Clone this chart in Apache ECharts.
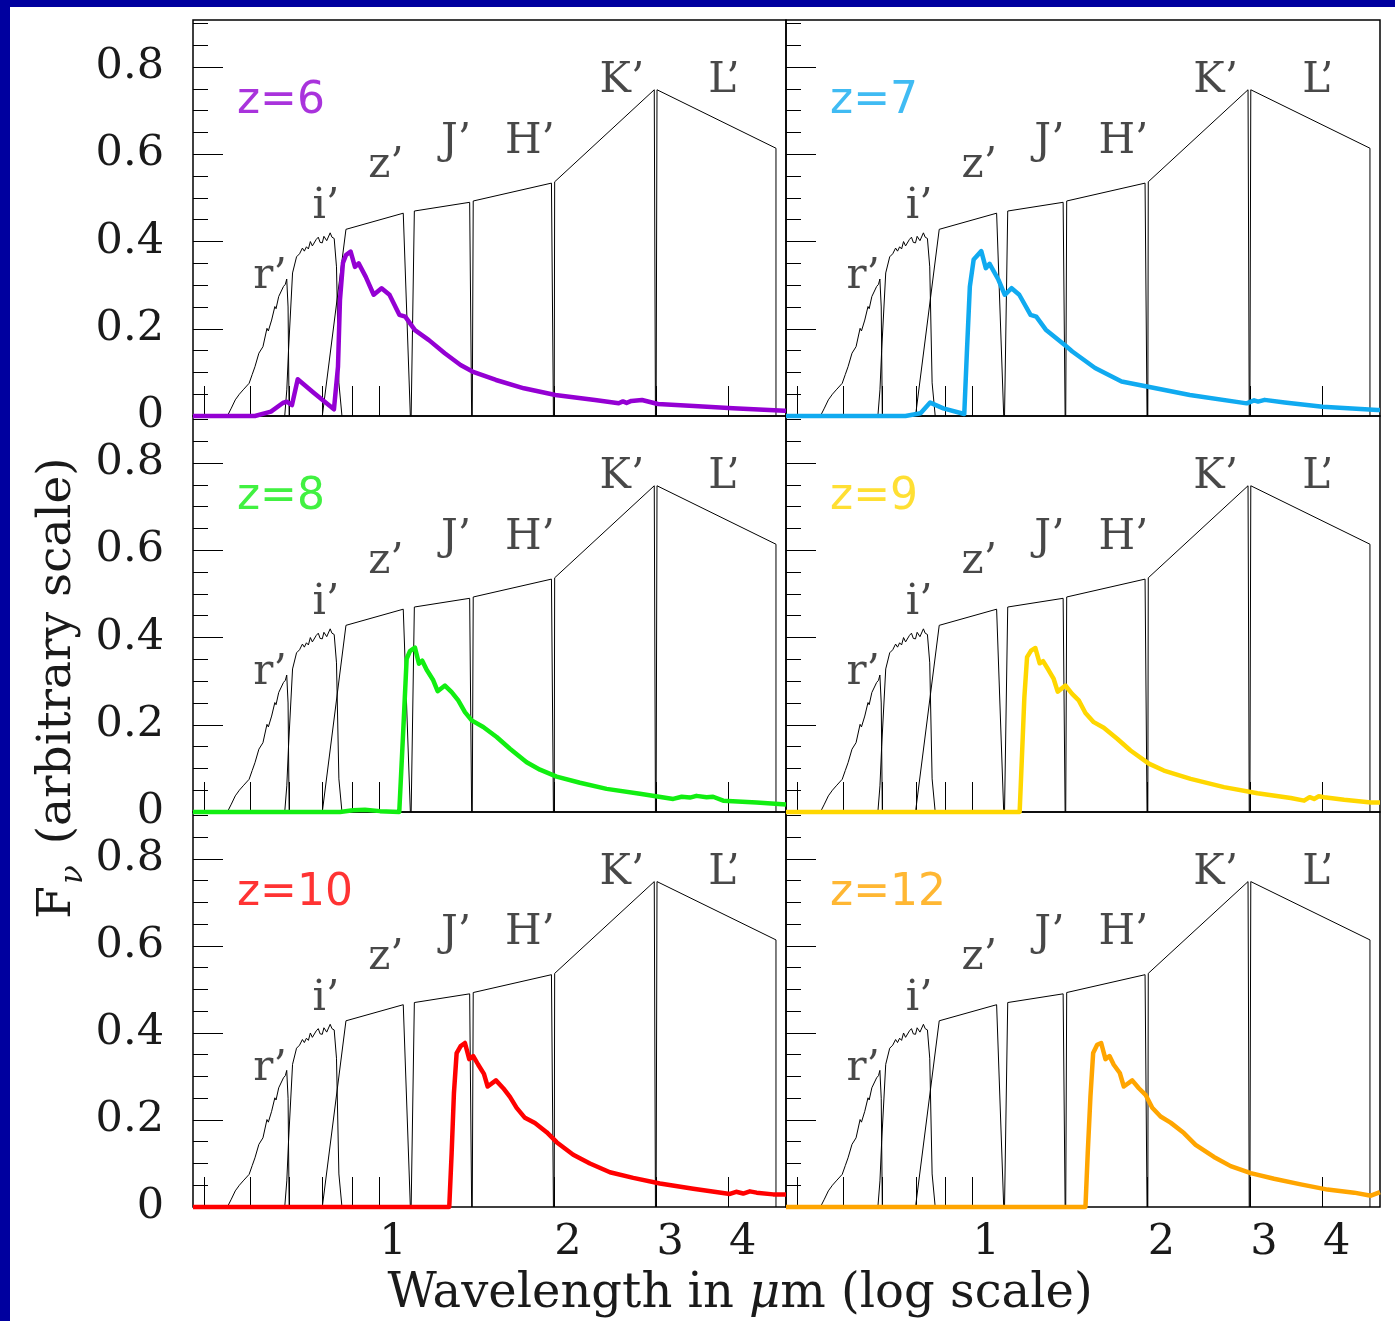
<!DOCTYPE html>
<html><head><meta charset="utf-8">
<script src="https://cdn.jsdelivr.net/npm/echarts@6/dist/echarts.min.js"></script>
<style>html,body{margin:0;padding:0;background:#fff}#c{width:1395px;height:1321px}</style>
</head><body><div id="c"></div>
<script>
// ---------- data (wavelength in micron, flux F_nu arbitrary) ----------
const filterR = [[0.5483,0],[0.5570,0.018],[0.5658,0.037],[0.5750,0.050],[0.5838,0.060],[0.5977,0.075],[0.6050,0.095],[0.6117,0.113],[0.6213,0.144],[0.6260,0.142],[0.6314,0.159],[0.6415,0.201],[0.6450,0.195],[0.6535,0.220],[0.6619,0.251],[0.6650,0.246],[0.6721,0.274],[0.6849,0.297],[0.6900,0.302],[0.6938,0.314],[0.6975,0.250],[0.7005,0]];
const filterI = [[0.6883,0],[0.6940,0.06],[0.6987,0.15],[0.7100,0.328],[0.7213,0.365],[0.7300,0.372],[0.7383,0.385],[0.7440,0.378],[0.7502,0.388],[0.7560,0.383],[0.7619,0.400],[0.7680,0.390],[0.7741,0.392],[0.7800,0.405],[0.7862,0.410],[0.7920,0.398],[0.7988,0.397],[0.8040,0.412],[0.8091,0.415],[0.8130,0.402],[0.8177,0.404],[0.8242,0.420],[0.8300,0.410],[0.8374,0.407],[0.8451,0.342],[0.8531,0.076],[0.8636,0]];
const filterZ = [[0.7988,0],[0.8774,0.428],[1.1011,0.465],[1.1325,0]];
const filterJ = [[1.1361,0],[1.1506,0.470],[1.4327,0.490],[1.4440,0]];
const filterH = [[1.4475,0],[1.4530,0.493],[1.9812,0.534],[1.9969,0]];
const filterK = [[2.0030,0],[2.0066,0.537],[2.9780,0.748],[2.9920,0]];
const filterL = [[3.0000,0],[3.0106,0.748],[4.8245,0.614],[4.8245,0]];
const filterNames = ['r’','i’','z’','J’','H’','K’','L’'];
const filterNameAt = [[0.6494,0.318],[0.8105,0.478],[1.028,0.572],[1.357,0.627],[1.819,0.629],[2.620,0.767],[3.925,0.767]];

const specZ6 = [[0.4785,0],[0.6116,0],[0.6517,0.0099],[0.6831,0.0298],[0.6938,0.0328],[0.7084,0.0252],[0.7247,0.0842],[0.7729,0.0528],[0.8366,0.0154],[0.8501,0.113],[0.8568,0.266],[0.8670,0.351],[0.8774,0.369],[0.8938,0.377],[0.9093,0.342],[0.9227,0.350],[0.9491,0.319],[0.9793,0.278],[1.0104,0.293],[1.0425,0.278],[1.0842,0.232],[1.1097,0.228],[1.1533,0.197],[1.2191,0.174],[1.2981,0.144],[1.3818,0.117],[1.4485,0.102],[1.5901,0.0826],[1.7763,0.0635],[2.0124,0.0482],[2.3541,0.0367],[2.5862,0.0291],[2.6300,0.0335],[2.6685,0.0300],[2.7200,0.0345],[2.8366,0.0367],[3.0215,0.0275],[3.4847,0.0229],[4.0676,0.0177],[4.9920,0.0122],[5.02,0.012]];
const specZ7 = [[0.4785,0],[0.7675,0],[0.8150,0.0061],[0.8464,0.0307],[0.8918,0.0176],[0.9688,0.0046],[0.9788,0.144],[0.9905,0.297],[1.0056,0.359],[1.0363,0.378],[1.0550,0.339],[1.0710,0.349],[1.1085,0.313],[1.1374,0.278],[1.1685,0.293],[1.2043,0.278],[1.2594,0.232],[1.2882,0.228],[1.3376,0.198],[1.4416,0.163],[1.4857,0.148],[1.6256,0.110],[1.8055,0.079],[2.0058,0.067],[2.3651,0.048],[2.9622,0.029],[3.0500,0.036],[3.0992,0.033],[3.1800,0.037],[3.4422,0.031],[3.9985,0.021],[4.9716,0.014],[5.02,0.014]];
const specZ8 = [[0.4785,0],[0.8568,0],[0.9021,0.004],[0.9460,0.005],[1.0040,0.002],[1.0838,0],[1.1011,0.187],[1.1160,0.351],[1.1307,0.369],[1.1533,0.377],[1.1718,0.340],[1.1872,0.347],[1.2081,0.326],[1.2401,0.302],[1.2619,0.277],[1.2990,0.290],[1.3339,0.275],[1.3693,0.256],[1.4061,0.229],[1.4440,0.210],[1.5119,0.195],[1.5943,0.172],[1.6807,0.145],[1.7957,0.114],[1.8929,0.097],[2.0224,0.081],[2.2180,0.067],[2.4656,0.053],[2.8134,0.042],[3.2104,0.030],[3.3200,0.035],[3.4298,0.033],[3.5200,0.037],[3.6645,0.034],[3.7600,0.035],[3.9137,0.026],[4.4680,0.022],[5.02,0.017]];
const specZ9 = [[0.4785,0],[1.2062,0],[1.2177,0.133],[1.2289,0.263],[1.2421,0.355],[1.2619,0.370],[1.2836,0.376],[1.3057,0.341],[1.3234,0.346],[1.3531,0.325],[1.3802,0.305],[1.4022,0.276],[1.4457,0.290],[1.4846,0.271],[1.5239,0.256],[1.5649,0.227],[1.6172,0.206],[1.6827,0.193],[1.7744,0.168],[1.8704,0.141],[2.0112,0.111],[2.1344,0.095],[2.3727,0.076],[2.7073,0.057],[3.0904,0.043],[3.5264,0.032],[3.7172,0.026],[3.8000,0.034],[3.8676,0.030],[3.9400,0.036],[4.0240,0.034],[4.3561,0.028],[4.8425,0.022],[5.02,0.022]];
const specZ10 = [[0.4785,0],[1.3213,0],[1.3339,0.124],[1.3461,0.262],[1.3606,0.354],[1.3824,0.370],[1.4061,0.377],[1.4303,0.340],[1.4532,0.347],[1.4822,0.327],[1.5161,0.306],[1.5385,0.277],[1.5899,0.291],[1.6366,0.273],[1.6807,0.253],[1.7259,0.228],[1.7836,0.205],[1.8557,0.193],[1.9438,0.172],[2.0224,0.149],[2.1599,0.120],[2.3076,0.100],[2.4980,0.080],[2.7396,0.067],[3.0454,0.054],[3.4751,0.042],[4.0192,0.030],[4.1200,0.035],[4.2367,0.031],[4.3500,0.036],[4.4680,0.033],[4.7717,0.029],[5.02,0.029]];
const specZ12 = [[0.4785,0],[1.5649,0],[1.5792,0.124],[1.5962,0.254],[1.6134,0.354],[1.6392,0.373],[1.6654,0.377],[1.6940,0.340],[1.7212,0.347],[1.7507,0.327],[1.7928,0.308],[1.8214,0.277],[1.8832,0.291],[1.9331,0.273],[1.9851,0.258],[2.0385,0.228],[2.1067,0.208],[2.1917,0.194],[2.3104,0.170],[2.4200,0.143],[2.6021,0.115],[2.7802,0.094],[3.0094,0.078],[3.3005,0.065],[3.6688,0.052],[4.0786,0.040],[4.5322,0.033],[4.8425,0.026],[5.02,0.034]];

const panelNames = ['z=6','z=7','z=8','z=9','z=10','z=12'];
const panelColors = ['#9400d3','#10aaf0','#11ee11','#ffd700','#ff0000','#ffa500'];
const panelSpectra = [specZ6, specZ7, specZ8, specZ9, specZ10, specZ12];
const panelNameAt = [0.5696, 0.720];

const xTickValues = [0.5,0.6,0.7,0.8,0.9,1,2,3,4];
const xLabelValues = [1,2,3,4];
const yMajorValues = [0,0.2,0.4,0.6,0.8];
const yMinorValues = [0,0.05,0.1,0.15,0.2,0.25,0.3,0.35,0.4,0.45,0.5,0.55,0.6,0.65,0.7,0.75,0.8,0.85,0.9];
const X_MIN = 0.4785, X_MAX = 5.02, Y_MAX = 0.908;

// ---------- build ----------
const lg = v => Math.log10(v);
const toLog = arr => arr.map(p => [lg(p[0]), p[1]]);
const filters = [filterR, filterI, filterZ, filterJ, filterH, filterK, filterL];

const gridRects = [
  {left:193, top:20,  width:593, height:396},
  {left:786, top:20,  width:594, height:396},
  {left:193, top:416, width:593, height:396},
  {left:786, top:416, width:594, height:396},
  {left:193, top:812, width:593, height:395},
  {left:786, top:812, width:594, height:395}
];
const SERIF = 'DejaVu Serif';
const grid = [], xAxis = [], yAxis = [], series = [];
gridRects.forEach((g, i) => {
  const isLeft = i % 2 === 0, isBottom = i >= 4;
  grid.push(Object.assign({show:true, borderColor:'#000', borderWidth:1.5, backgroundColor:'transparent'}, g));
  xAxis.push({
    gridIndex:i, type:'value', min:lg(X_MIN), max:lg(X_MAX), position:'bottom',
    axisLine:{show:false, onZero:false}, splitLine:{show:false},
    axisTick:{show:true, inside:true, length:30, customValues:xTickValues.map(lg), lineStyle:{color:'#000', width:1}},
    axisLabel:{show:isBottom, customValues:xLabelValues.map(lg),
      formatter:v => String(Math.round(Math.pow(10, v))),
      fontFamily:SERIF, fontSize:43, color:'#1a1a1a', margin:14, padding:[0,0,0,28]}
  });
  yAxis.push({
    gridIndex:i, type:'value', min:0, max:Y_MAX, interval:0.05, position:'left',
    axisLine:{show:false, onZero:false}, splitLine:{show:false},
    axisTick:{show:true, inside:true, length:15, customValues:yMinorValues, lineStyle:{color:'#000', width:1}},
    axisLabel:{show:false}
  });
  yAxis.push({
    gridIndex:i, type:'value', min:0, max:Y_MAX, interval:0.05, position:'left', offset:0,
    axisLine:{show:false, onZero:false}, splitLine:{show:false},
    axisTick:{show:true, inside:true, length:30, customValues:yMajorValues, lineStyle:{color:'#000', width:1}},
    axisLabel:{show:isLeft, customValues:yMajorValues,
      formatter:v => (Math.abs(v) < 1e-9 ? '0' : v.toFixed(1)),
      fontFamily:SERIF, fontSize:43, color:'#1a1a1a', margin:29}
  });
  filters.forEach(f => {
    series.push({type:'line', xAxisIndex:i, yAxisIndex:2*i, data:toLog(f), symbol:'none', silent:true,
      lineStyle:{color:'#000', width:1}, z:2, animation:false});
  });
  series.push({type:'line', xAxisIndex:i, yAxisIndex:2*i, data:toLog(panelSpectra[i]), symbol:'none', silent:true,
    clip:false, lineStyle:{color:panelColors[i], width:4.5, join:'round'}, z:4, animation:false});
  series.push({type:'scatter', xAxisIndex:i, yAxisIndex:2*i, symbolSize:1, itemStyle:{color:'rgba(0,0,0,0)'},
    silent:true, animation:false, z:3,
    data:filterNames.map((n, k) => ({name:n, value:[lg(filterNameAt[k][0]), filterNameAt[k][1]]})),
    label:{show:true, position:'inside', formatter:p => p.name, fontFamily:SERIF, fontSize:42, color:'#1a1a1a'}});
  series.push({type:'scatter', xAxisIndex:i, yAxisIndex:2*i, symbolSize:1, itemStyle:{color:'rgba(0,0,0,0)'},
    silent:true, animation:false, z:3,
    data:[{name:panelNames[i], value:[lg(panelNameAt[0]), panelNameAt[1]]}],
    label:{show:true, position:'inside', align:'left', formatter:p => p.name, fontFamily:'DejaVu Sans', fontSize:44, color:panelColors[i]}});
});

const chart = echarts.init(document.getElementById('c'), null, {renderer:'canvas', width:1395, height:1321});
chart.setOption({
  animation:false,
  backgroundColor:'#fff',
  grid, xAxis, yAxis, series,
  graphic:[
    {type:'rect', left:0, top:0, shape:{width:1395, height:7}, style:{fill:'#00009f'}, z:10},
    {type:'rect', left:0, top:0, shape:{width:10, height:1321}, style:{fill:'#00009f'}, z:10},
    {type:'text', x:740, y:1295, z:10, style:{
      text:'{t|Wavelength in }{m|μ}{t|m (log scale)}',
      align:'center', verticalAlign:'middle',
      rich:{t:{fontFamily:SERIF, fontSize:48, fill:'#1a1a1a'}, m:{fontFamily:SERIF, fontStyle:'italic', fontSize:48, fill:'#1a1a1a'}}}},
    {type:'text', x:58, y:688, rotation:Math.PI/2, z:10, style:{
      text:'{f|F}{s|ν}{f| (arbitrary scale)}',
      align:'center', verticalAlign:'middle',
      rich:{f:{fontFamily:SERIF, fontSize:47, fill:'#1a1a1a', lineHeight:62, verticalAlign:'middle'},
            s:{fontFamily:SERIF, fontStyle:'italic', fontSize:31, fill:'#1a1a1a', lineHeight:31, verticalAlign:'bottom', padding:[0,6,0,2]}}}}
  ]
});
</script></body></html>
